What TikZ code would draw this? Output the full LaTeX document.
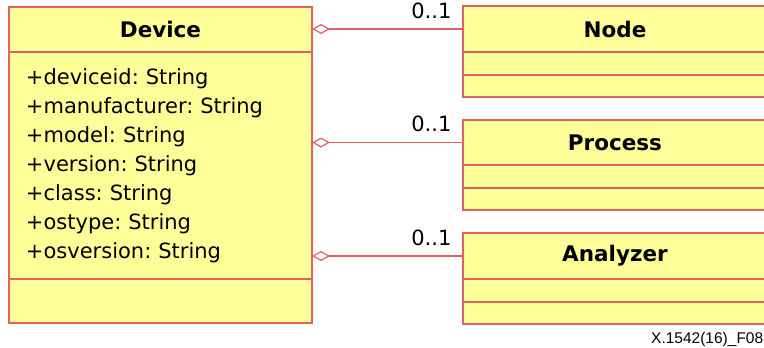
\documentclass[tikz,border=0pt]{standalone}
\usepackage{fontspec}
\setmainfont{DejaVu Sans}
\newfontfamily\figfont{Liberation Sans}
\usetikzlibrary{positioning,arrows.meta}
\frenchspacing

\definecolor{umlred}{RGB}{226,98,98}
\definecolor{umlyellow}{RGB}{255,255,153}

\tikzset{
  classhead/.style={draw=umlred, fill=umlyellow, line width=1.2pt,
    inner sep=0pt, outer sep=0pt, anchor=north west,
    font=\fontsize{21.5}{24}\selectfont\bfseries},
  classpart/.style={draw=umlred, fill=umlyellow, line width=1.2pt,
    inner sep=0pt, outer sep=0pt},
  aggregation/.style={draw=umlred, line width=1.2pt,
    {Diamond[open,length=18pt,width=10pt]}-},
  mult/.style={pos=1, anchor=south east, inner sep=0pt, xshift=-11pt, yshift=10pt,
    text=black, font=\fontsize{21}{24}\selectfont},
}

\begin{document}
\begin{tikzpicture}[x=1pt,y=-1pt]
\useasboundingbox (0,0) rectangle (764,348);
%----------------------------
% Left: the Device class
%----------------------------
\node[classhead, minimum width=303pt, minimum height=45pt] (device) at (9,7) {Device};
\node[classpart, minimum width=303pt, minimum height=227pt, below=0pt of device,
  text width=269pt, align=left, font=\fontsize{21}{29}\selectfont] (deviceattr)
  {+deviceid: String\\
   +manufacturer: String\\
   +model: String\\
   +version: String\\
   +class: String\\
   +ostype: String\\
   +osversion: String};
\node[classpart, minimum width=303pt, minimum height=44pt, below=0pt of deviceattr] (deviceops) {};

%----------------------------
% Right: Node, Process, Analyzer
%----------------------------
\node[classhead, minimum width=304pt, minimum height=46pt] (nodehead) at (463,6) {Node};
\node[classpart, minimum width=304pt, minimum height=23pt, below=0pt of nodehead] (nodeattr) {};
\node[classpart, minimum width=304pt, minimum height=22pt, below=0pt of nodeattr] (nodeops) {};

\node[classhead, minimum width=304pt, minimum height=45pt] (processhead) at (463,120) {Process};
\node[classpart, minimum width=304pt, minimum height=23pt, below=0pt of processhead] (processattr) {};
\node[classpart, minimum width=304pt, minimum height=22pt, below=0pt of processattr] (processops) {};

\node[classhead, minimum width=304pt, minimum height=46pt] (analyzerhead) at (463,233) {Analyzer};
\node[classpart, minimum width=304pt, minimum height=23pt, below=0pt of analyzerhead] (analyzerattr) {};
\node[classpart, minimum width=304pt, minimum height=22pt, below=0pt of analyzerattr] (analyzerops) {};

%----------------------------
% Aggregations
%----------------------------
\draw[aggregation] (device.east |- nodehead.west) -- (nodehead.west) node[mult] {0..1};
\draw[aggregation] (deviceattr.east |- processhead.west) -- (processhead.west) node[mult] {0..1};
\draw[aggregation] (deviceattr.east |- analyzerhead.west) -- (analyzerhead.west) node[mult] {0..1};

% figure number
\node[anchor=base west, inner sep=0pt, font=\figfont\fontsize{15.5}{18}\selectfont] (fignum)
  at (651,343) {X.1542(16)\_F08};
\end{tikzpicture}
\end{document}
